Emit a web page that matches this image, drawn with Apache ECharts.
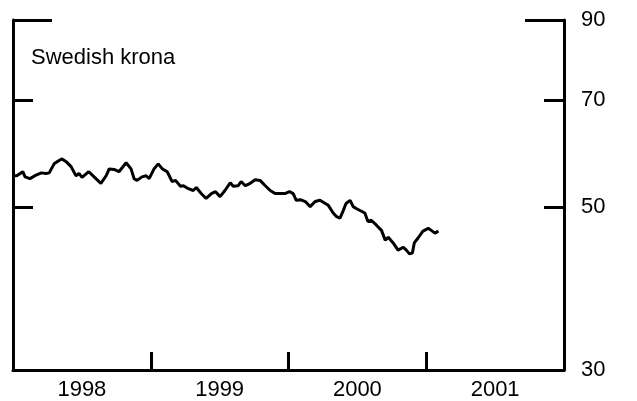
<!DOCTYPE html>
<html>
<head>
<meta charset="utf-8">
<script src="https://cdn.jsdelivr.net/npm/echarts@6/dist/echarts.min.js"></script>
<style>
  html, body { margin: 0; padding: 0; background: #fff; }
  #chart { width: 637px; height: 401px; }
</style>
</head>
<body>
<div id="chart"></div>
<script>
// Swedish krona, weekly (log scale)
const dates = [
  '1998-01-01','1998-01-11','1998-01-27','1998-02-02','1998-02-15','1998-02-28','1998-03-17','1998-03-30',
  '1998-04-07','1998-04-20','1998-05-03','1998-05-11','1998-05-22','1998-06-04','1998-06-17','1998-06-25',
  '1998-07-03','1998-07-21','1998-08-04','1998-08-22','1998-09-05','1998-09-13','1998-09-26','1998-10-09',
  '1998-10-28','1998-11-10','1998-11-18','1998-11-26','1998-12-09','1998-12-20','1998-12-28','1999-01-10',
  '1999-01-21','1999-02-01','1999-02-14','1999-02-27','1999-03-08','1999-03-21','1999-03-29','1999-04-11',
  '1999-04-24','1999-05-02','1999-05-15','1999-05-28','1999-06-11','1999-06-22','1999-07-04','1999-07-17',
  '1999-07-31','1999-08-08','1999-08-21','1999-08-29','1999-09-09','1999-09-22','1999-10-05','1999-10-18',
  '1999-11-01','1999-11-14','1999-11-27','1999-12-10','1999-12-23','2000-01-04','2000-01-14','2000-01-22',
  '2000-02-02','2000-02-15','2000-02-28','2000-03-12','2000-03-25','2000-04-08','2000-04-16','2000-04-29',
  '2000-05-07','2000-05-17','2000-05-25','2000-06-02','2000-06-13','2000-06-21','2000-06-29','2000-07-09',
  '2000-07-22','2000-07-30','2000-08-08','2000-08-21','2000-09-04','2000-09-14','2000-09-22','2000-10-05',
  '2000-10-18','2000-11-01','2000-11-09','2000-11-17','2000-11-25','2000-11-30','2000-12-10','2000-12-23',
  '2001-01-06','2001-01-14','2001-01-24','2001-02-02'
];
const krona = [
  55.2, 55.2, 55.9, 55.0, 54.7, 55.2, 55.7, 55.6,
  55.7, 57.3, 57.9, 58.2, 57.7, 56.8, 55.2, 55.6,
  54.9, 55.9, 55.0, 53.9, 55.2, 56.4, 56.3, 55.9,
  57.5, 56.4, 54.7, 54.4, 55.0, 55.2, 54.7, 56.4,
  57.3, 56.4, 55.9, 54.2, 54.4, 53.4, 53.5, 53.0,
  52.7, 53.2, 52.2, 51.4, 52.2, 52.5, 51.7, 52.7,
  54.0, 53.4, 53.5, 54.2, 53.5, 53.9, 54.5, 54.4,
  53.5, 52.7, 52.2, 52.2, 52.2, 52.5, 52.2, 51.1,
  51.2, 50.9, 50.1, 50.9, 51.1, 50.6, 50.3, 49.1,
  48.6, 48.3, 49.4, 50.6, 51.1, 50.1, 49.8, 49.5,
  49.1, 47.8, 48.0, 47.3, 46.5, 45.1, 45.5, 44.7,
  43.7, 44.1, 43.7, 43.2, 43.3, 44.7, 45.4, 46.4,
  46.8, 46.5, 46.1, 46.4
];
const years = ['1998', '1999', '2000', '2001'];
const yTickLabels = [30, 50, 70, 90];
const yShortTicks = [50, 70];
const yLongTicks = [90];

const ink = '#000';
const font = '"Liberation Sans", Arial, sans-serif';

function yAxisDef(pos, ticks, len, showLine, labels) {
  return {
    type: 'log', position: pos, offset: 0, min: 30, max: 90,
    axisLine: { show: showLine, lineStyle: { color: ink, width: 3 } },
    axisTick: { show: true, inside: true, length: len, customValues: ticks,
                lineStyle: { color: ink, width: 3 } },
    axisLabel: labels ? { show: true, customValues: labels, color: ink, fontSize: 22,
                          fontFamily: font, margin: 17 } : { show: false },
    splitLine: { show: false }
  };
}

const chart = echarts.init(document.getElementById('chart'), null, { renderer: 'canvas' });
chart.setOption({
  animation: false,
  backgroundColor: '#fff',
  title: {
    text: 'Swedish krona', left: 26, top: 42,
    textStyle: { color: ink, fontSize: 22, fontWeight: 'normal', fontFamily: font }
  },
  grid: { left: 13, right: 73, top: 20, bottom: 28, containLabel: false },
  xAxis: [
    {
      type: 'category', data: years, position: 'bottom', boundaryGap: true,
      axisLine: { show: true, lineStyle: { color: ink, width: 3 } },
      axisTick: { show: true, inside: true, length: 18, lineStyle: { color: ink, width: 3 } },
      axisLabel: { color: ink, fontSize: 22, fontFamily: font, margin: 9 },
      splitLine: { show: false }
    },
    {
      type: 'time', min: '1998-01-01', max: '2002-01-01', show: false
    }
  ],
  yAxis: [
    yAxisDef('right', yShortTicks, 20, true, yTickLabels),
    yAxisDef('left', yShortTicks, 20, true, null),
    yAxisDef('right', yLongTicks, 39, false, null),
    yAxisDef('left', yLongTicks, 39, false, null)
  ],
  series: [{
    type: 'line', xAxisIndex: 1, yAxisIndex: 0,
    data: dates.map((d, i) => [d, krona[i]]),
    showSymbol: false,
    lineStyle: { color: ink, width: 3 }
  }]
});
</script>
</body>
</html>
